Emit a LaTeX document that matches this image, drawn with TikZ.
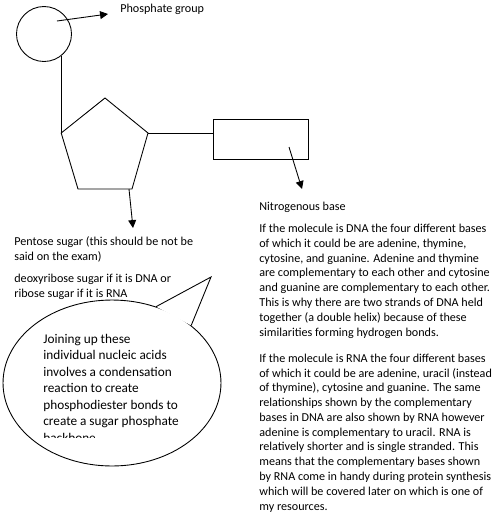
\documentclass[tikz,border=0pt]{standalone}
\usepackage{fontspec}
\setmainfont{Carlito}
\usetikzlibrary{arrows.meta}
\usetikzlibrary{shapes.geometric}

\begin{document}
\begin{tikzpicture}[x=0.02cm, y=-0.02cm,
    every node/.style={font=\fontsize{6.9}{8.4}\selectfont, inner sep=0pt},
    shape line/.style={line width=0.5pt},
    pointer/.style={line width=0.5pt, -{Triangle[length=4.5pt, width=4.5pt]}},
    note/.style={anchor=base west, align=left}]
  % Page frame in pixel units (y runs downwards);
  % multi-line notes sit on the baseline of their last line
  \useasboundingbox (0,0) rectangle (492,515);

  % Phosphate group
  \node[draw, circle, shape line, minimum size=1.1cm] (phosphate) at (44,34) {};
  \node[note] (phosphate label) at (120,12) {Phosphate group};
  \coordinate (phosphate from) at (57,21);
  \coordinate (phosphate to) at (108,14);
  \draw[pointer] (phosphate from) -- (phosphate to);

  % Pentose sugar (pentagon corners)
  \coordinate (sugar-l) at (phosphate.-52 |- 0,133);
  \coordinate (sugar-t) at (105,98);
  \coordinate (sugar-r) at (148,133);
  \coordinate (sugar-br) at (132,189);
  \coordinate (sugar-bl) at (78,189);
  \draw[shape line] (sugar-l) -- (sugar-t) -- (sugar-r) -- (sugar-br)
    -- (sugar-bl) -- cycle;
  \draw[shape line] (phosphate.-52) -- (sugar-l);

  % Nitrogenous base
  \node[draw, rectangle, shape line, minimum width=1.9cm, minimum height=0.8cm]
    (base) at (260.5,139) {};
  \draw[shape line] (sugar-r) -- (sugar-r -| base.west);
  \coordinate (base from) at (289,147);
  \coordinate (base to) at (302,189);
  \draw[pointer] (base from) -- (base to);

  \coordinate (sugar from) at (129,189);
  \coordinate (sugar to) at (133,228);
  \draw[pointer] (sugar from) -- (sugar to);

  % Notes on the sugar
  \node[note] (sugar label) at (14,260) {Pentose sugar (this should be not be\\
    said on the exam)};
  \node[note] (sugar types) at (14,297) {deoxyribose sugar if it is DNA or\\
    ribose sugar if it is RNA};

  % Notes on the bases
  \node[note] (base label) at (259,210) {Nitrogenous base};
  \node[note] (dna text) at (259,336) {If the molecule is DNA the four different bases\\
    of which it could be are adenine, thymine,\\
    cytosine, and guanine. Adenine and thymine\\
    are complementary to each other and cytosine\\
    and guanine are complementary to each other.\\
    This is why there are two strands of DNA held\\
    together (a double helix) because of these\\
    similarities forming hydrogen bonds.};
  \node[note] (rna text) at (259,510) {If the molecule is RNA the four different bases\\
    of which it could be are adenine, uracil (instead\\
    of thymine), cytosine and guanine. The same\\
    relationships shown by the complementary\\
    bases in DNA are also shown by RNA however\\
    adenine is complementary to uracil. RNA is\\
    relatively shorter and is single stranded. This\\
    means that the complementary bases shown\\
    by RNA come in handy during protein synthesis\\
    which will be covered later on which is one of\\
    my resources.};

  % Speech bubble
  \node[draw, ellipse, shape line, fill=white, minimum width=4.36cm,
    minimum height=3.32cm] (bubble) at (112,383) {};
  \coordinate (bubble tip) at (211,277);
  \fill[white] (bubble.60.6) -- (bubble tip) -- (bubble.36.6) -- cycle;
  \draw[shape line] (bubble.60.6) -- (bubble tip) -- (bubble.36.6);
  \begin{scope}
    \clip (0,0) rectangle (492,437.5);
    \node[note, font=\fontsize{7.55}{9.35}\selectfont] (bubble text) at (43,442)
      {Joining up these\\
      individual nucleic acids\\
      involves a condensation\\
      reaction to create\\
      phosphodiester bonds to\\
      create a sugar phosphate\\
      backbone};
  \end{scope}
\end{tikzpicture}
\end{document}
